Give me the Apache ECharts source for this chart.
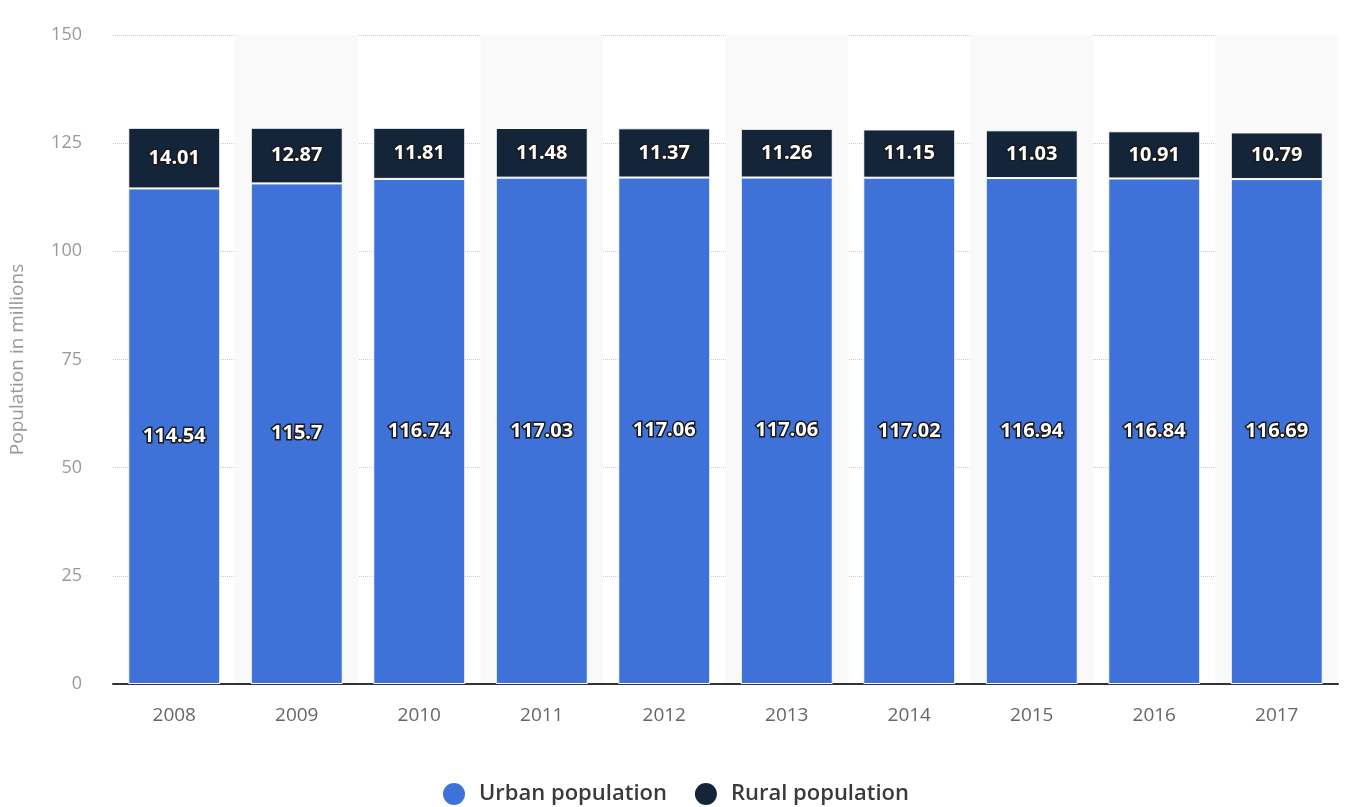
<!DOCTYPE html>
<html>
<head>
<meta charset="utf-8">
<script src="https://cdn.jsdelivr.net/npm/echarts@6/dist/echarts.min.js"></script>
<style>
  html, body { margin: 0; padding: 0; background: #fff; }
  #chart { width: 1350px; height: 807px; }
</style>
</head>
<body>
<div id="chart"></div>
<script>
const years = ['2008', '2009', '2010', '2011', '2012', '2013', '2014', '2015', '2016', '2017'];
const urban = [114.54, 115.7, 116.74, 117.03, 117.06, 117.06, 117.02, 116.94, 116.84, 116.69];
const rural = [14.01, 12.87, 11.81, 11.48, 11.37, 11.26, 11.15, 11.03, 10.91, 10.79];

const chart = echarts.init(document.getElementById('chart'));

// label style shared by both series
const barLabel = {
  show: true,
  position: 'inside',
  color: '#fff',
  fontFamily: 'Open Sans',
  fontWeight: 'bold',
  fontSize: 20,
  textBorderColor: '#1a1a1a',
  textBorderWidth: 3
};

chart.setOption({
  animation: false,
  grid: { left: 113, right: 12, top: 35, bottom: 123 },
  legend: {
    top: 776,
    left: 'center',
    icon: 'circle',
    itemWidth: 24,
    itemHeight: 24,
    itemGap: 26,
    textStyle: { fontFamily: 'Open Sans', fontSize: 22, fontWeight: 600, color: '#3a3a3a', padding: [0, 0, 0, 8] },
    data: ['Urban population', 'Rural population']
  },
  xAxis: {
    type: 'category',
    data: years,
    axisLine: { lineStyle: { color: '#333', width: 2 } },
    axisTick: { show: false },
    axisLabel: { color: '#666', fontFamily: 'Open Sans', fontSize: 19, margin: 22 },
    splitArea: { show: true, areaStyle: { color: ['rgba(255,255,255,0)', '#f9f9f9'] } }
  },
  yAxis: {
    type: 'value',
    min: 0,
    max: 150,
    interval: 25,
    name: 'Population in millions',
    nameLocation: 'middle',
    nameGap: 86,
    nameTextStyle: { color: '#999', fontFamily: 'Open Sans', fontSize: 19 },
    axisLine: { show: false },
    axisTick: { show: false },
    axisLabel: { color: '#999', fontFamily: 'Open Sans', fontSize: 18, margin: 31 },
    splitLine: { lineStyle: { color: '#ccc', type: 'dotted', width: 1 } }
  },
  series: [
    {
      name: 'Urban population',
      type: 'bar',
      stack: 'pop',
      barWidth: 92,
      data: urban,
      itemStyle: { color: '#3f72d8', borderColor: '#fff', borderWidth: 1 },
      label: barLabel
    },
    {
      name: 'Rural population',
      type: 'bar',
      stack: 'pop',
      barWidth: 92,
      data: rural,
      itemStyle: { color: '#152539', borderColor: '#fff', borderWidth: 1 },
      label: barLabel
    }
  ]
});
</script>
</body>
</html>
